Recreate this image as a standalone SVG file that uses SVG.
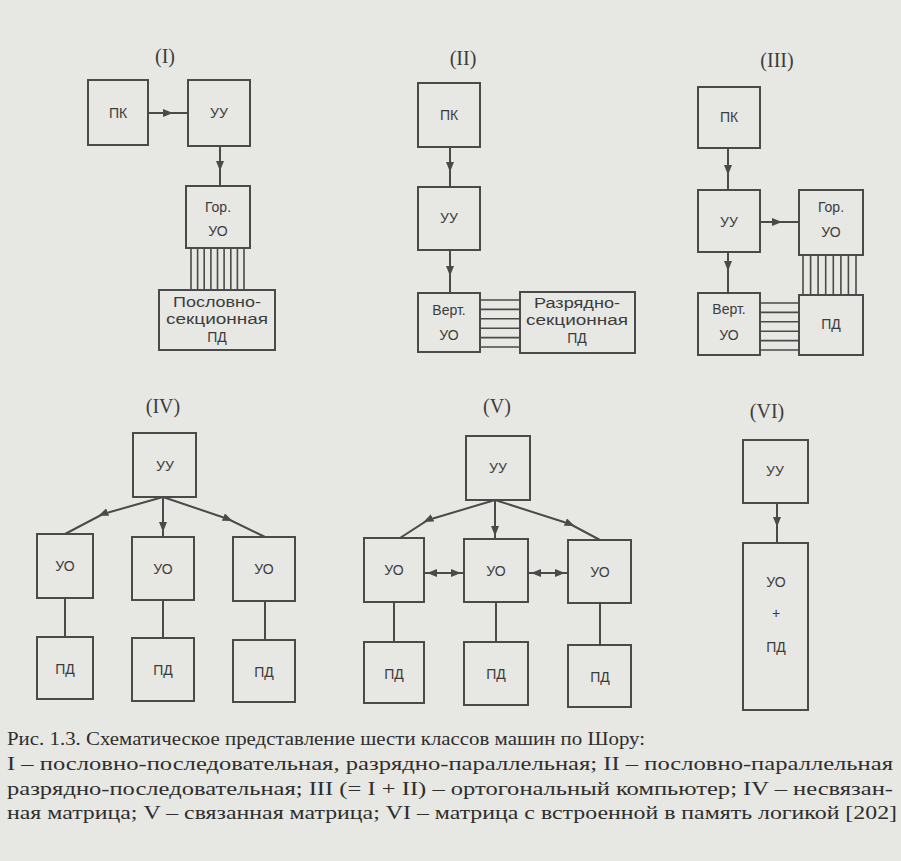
<svg xmlns="http://www.w3.org/2000/svg" width="901" height="861" viewBox="0 0 901 861">
<defs>
<style>
.bg{fill:#e7e7e3}
.box{fill:none;stroke:#4a4a4a;stroke-width:2}
.ln{fill:none;stroke:#4a4a4a;stroke-width:2}
.bus{fill:none;stroke:#4a4a4a;stroke-width:1.6}
.t{font-family:"Liberation Sans","DejaVu Sans",sans-serif;font-size:14px;fill:#3c3c3c;text-anchor:middle;dominant-baseline:central}
.ts{font-family:"Liberation Sans","DejaVu Sans",sans-serif;font-size:14px;fill:#3c3c3c;text-anchor:middle;dominant-baseline:central}
.rn{font-family:"Liberation Serif","DejaVu Serif",serif;font-size:20px;fill:#3c3c3c;text-anchor:middle}
.cap{font-family:"Liberation Serif","DejaVu Serif",serif;font-size:18px;fill:#2e2e2e}
</style>
<marker id="ah" viewBox="0 0 10 8" refX="5" refY="4" markerWidth="10" markerHeight="8" markerUnits="userSpaceOnUse" orient="auto">
<path d="M0,0 L10,4 L0,8 z" fill="#4a4a4a"/>
</marker>
</defs>
<rect class="bg" x="0" y="0" width="901" height="861"/>

<!-- labels -->
<g id="labels">
<text class="rn" x="165" y="63">(I)</text>
<text class="rn" x="463" y="65">(II)</text>
<text class="rn" x="777" y="67">(III)</text>
<text class="rn" x="163" y="413">(IV)</text>
<text class="rn" x="497" y="413">(V)</text>
<text class="rn" x="767" y="418">(VI)</text>
</g>

<!-- connectors -->
<g id="connectors">
<!-- I -->
<path class="ln" d="M148,113 L168,113 L188,113" marker-mid="url(#ah)"/>
<path class="ln" d="M220,146 L220,166 L220,186" marker-mid="url(#ah)"/>
<g class="bus">
<path d="M191,248V290M197.6,248V290M204.2,248V290M210.9,248V290M217.5,248V290M224.1,248V290M230.8,248V290M237.4,248V290M244,248V290"/>
</g>
<!-- II -->
<path class="ln" d="M450,147 L450,167 L450,187" marker-mid="url(#ah)"/>
<path class="ln" d="M450,250 L450,271 L450,293" marker-mid="url(#ah)"/>
<g class="bus">
<path d="M480,300H520M480,309.4H520M480,318.8H520M480,328.2H520M480,337.6H520M480,347H520"/>
</g>
<!-- III -->
<path class="ln" d="M728,148 L728,170 L728,190" marker-mid="url(#ah)"/>
<path class="ln" d="M760,222 L777,222 L799,222" marker-mid="url(#ah)"/>
<path class="ln" d="M728,252 L728,266 L728,293" marker-mid="url(#ah)"/>
<g class="bus">
<path d="M803,255V295M810.6,255V295M818.1,255V295M825.7,255V295M833.3,255V295M840.9,255V295M848.4,255V295M856,255V295"/>
<path d="M760,303H799M760,312.4H799M760,321.8H799M760,331.2H799M760,340.6H799M760,350H799"/>
</g>
<!-- IV -->
<path class="ln" d="M163,497 L103,514 L65,534" marker-mid="url(#ah)"/>
<path class="ln" d="M163,497 L163,527 L163,537" marker-mid="url(#ah)"/>
<path class="ln" d="M163,497 L228,519 L265,537" marker-mid="url(#ah)"/>
<path class="ln" d="M65,598V637M163,600V638M265,601V640"/>
<!-- V -->
<path class="ln" d="M495,500 L428,520 L400,538" marker-mid="url(#ah)"/>
<path class="ln" d="M495,500 L495,531 L495,539" marker-mid="url(#ah)"/>
<path class="ln" d="M495,500 L570,524 L600,540" marker-mid="url(#ah)"/>
<path class="ln" d="M444,573 L432,573 L424,573" marker-mid="url(#ah)"/>
<path class="ln" d="M444,573 L456,573 L464,573" marker-mid="url(#ah)"/>
<path class="ln" d="M548,573 L536,573 L528,573" marker-mid="url(#ah)"/>
<path class="ln" d="M548,573 L560,573 L568,573" marker-mid="url(#ah)"/>
<path class="ln" d="M394,602V642M496,602V642M600,603V645"/>
<!-- VI -->
<path class="ln" d="M777,503 L777,522 L777,543" marker-mid="url(#ah)"/>
</g>

<!-- I nodes -->
<g id="I-PK"><rect class="box" x="88" y="80" width="60" height="65"/><text class="t" x="118" y="113">ПК</text></g>
<g id="I-UU"><rect class="box" x="188" y="80" width="62" height="66"/><text class="t" x="219" y="113">УУ</text></g>
<g id="I-UO"><rect class="box" x="186" y="186" width="64" height="62"/><text class="t" x="218" y="207">Гор.</text><text class="t" x="218" y="231">УО</text></g>
<g id="I-PD"><rect class="box" x="159" y="290" width="116" height="60"/><text class="ts" x="217" y="302" textLength="88" lengthAdjust="spacingAndGlyphs">Пословно-</text><text class="ts" x="217" y="319" textLength="102" lengthAdjust="spacingAndGlyphs">секционная</text><text class="ts" x="217" y="337">ПД</text></g>

<!-- II nodes -->
<g id="II-PK"><rect class="box" x="418" y="83" width="62" height="64"/><text class="t" x="449" y="115">ПК</text></g>
<g id="II-UU"><rect class="box" x="418" y="187" width="62" height="63"/><text class="t" x="449" y="218">УУ</text></g>
<g id="II-UO"><rect class="box" x="418" y="293" width="62" height="59"/><text class="t" x="449" y="310">Верт.</text><text class="t" x="449" y="335">УО</text></g>
<g id="II-PD"><rect class="box" x="520" y="292" width="115" height="61"/><text class="ts" x="577" y="303" textLength="86" lengthAdjust="spacingAndGlyphs">Разрядно-</text><text class="ts" x="577" y="320" textLength="102" lengthAdjust="spacingAndGlyphs">секционная</text><text class="ts" x="577" y="338">ПД</text></g>

<!-- III nodes -->
<g id="III-PK"><rect class="box" x="698" y="87" width="62" height="61"/><text class="t" x="729" y="117">ПК</text></g>
<g id="III-UU"><rect class="box" x="698" y="190" width="62" height="62"/><text class="t" x="729" y="222">УУ</text></g>
<g id="III-GUO"><rect class="box" x="799" y="190" width="64" height="65"/><text class="t" x="831" y="207">Гор.</text><text class="t" x="831" y="232">УО</text></g>
<g id="III-VUO"><rect class="box" x="698" y="293" width="62" height="62"/><text class="t" x="729" y="309">Верт.</text><text class="t" x="729" y="335">УО</text></g>
<g id="III-PD"><rect class="box" x="799" y="295" width="64" height="60"/><text class="t" x="831" y="324">ПД</text></g>

<!-- IV nodes -->
<g id="IV-UU"><rect class="box" x="133" y="433" width="63" height="64"/><text class="t" x="165" y="466">УУ</text></g>
<g id="IV-UO1"><rect class="box" x="37" y="534" width="56" height="64"/><text class="t" x="65" y="566">УО</text></g>
<g id="IV-UO2"><rect class="box" x="132" y="537" width="62" height="63"/><text class="t" x="163" y="569">УО</text></g>
<g id="IV-UO3"><rect class="box" x="233" y="537" width="62" height="64"/><text class="t" x="264" y="569">УО</text></g>
<g id="IV-PD1"><rect class="box" x="37" y="637" width="56" height="62"/><text class="t" x="65" y="669">ПД</text></g>
<g id="IV-PD2"><rect class="box" x="132" y="638" width="62" height="63"/><text class="t" x="163" y="670">ПД</text></g>
<g id="IV-PD3"><rect class="box" x="233" y="640" width="62" height="62"/><text class="t" x="264" y="672">ПД</text></g>

<!-- V nodes -->
<g id="V-UU"><rect class="box" x="466" y="436" width="64" height="64"/><text class="t" x="498" y="468">УУ</text></g>
<g id="V-UO1"><rect class="box" x="364" y="538" width="60" height="64"/><text class="t" x="394" y="570">УО</text></g>
<g id="V-UO2"><rect class="box" x="464" y="539" width="64" height="63"/><text class="t" x="496" y="571">УО</text></g>
<g id="V-UO3"><rect class="box" x="568" y="540" width="63" height="63"/><text class="t" x="600" y="572">УО</text></g>
<g id="V-PD1"><rect class="box" x="364" y="642" width="60" height="61"/><text class="t" x="394" y="674">ПД</text></g>
<g id="V-PD2"><rect class="box" x="464" y="642" width="64" height="63"/><text class="t" x="496" y="674">ПД</text></g>
<g id="V-PD3"><rect class="box" x="568" y="645" width="63" height="62"/><text class="t" x="600" y="677">ПД</text></g>

<!-- VI nodes -->
<g id="VI-UU"><rect class="box" x="743" y="440" width="65" height="63"/><text class="t" x="775" y="471">УУ</text></g>
<g id="VI-UOPD"><rect class="box" x="743" y="543" width="65" height="167"/><text class="t" x="776" y="582">УО</text><text class="t" x="776" y="613">+</text><text class="t" x="776" y="647">ПД</text></g>

<!-- caption -->
<g id="caption">
<text class="cap" x="7" y="745" textLength="638" lengthAdjust="spacingAndGlyphs">Рис. 1.3. Схематическое представление шести классов машин по Шору:</text>
<text class="cap" x="7" y="770" textLength="886" lengthAdjust="spacingAndGlyphs">I – пословно-последовательная,  разрядно-параллельная;  II – пословно-параллельная</text>
<text class="cap" x="7" y="795" textLength="886" lengthAdjust="spacingAndGlyphs">разрядно-последовательная;  III  (= I + II) – ортогональный компьютер;  IV – несвязан-</text>
<text class="cap" x="7" y="819" textLength="890" lengthAdjust="spacingAndGlyphs">ная матрица;  V – связанная матрица;  VI – матрица с встроенной в память логикой  [202]</text>
</g>
</svg>
